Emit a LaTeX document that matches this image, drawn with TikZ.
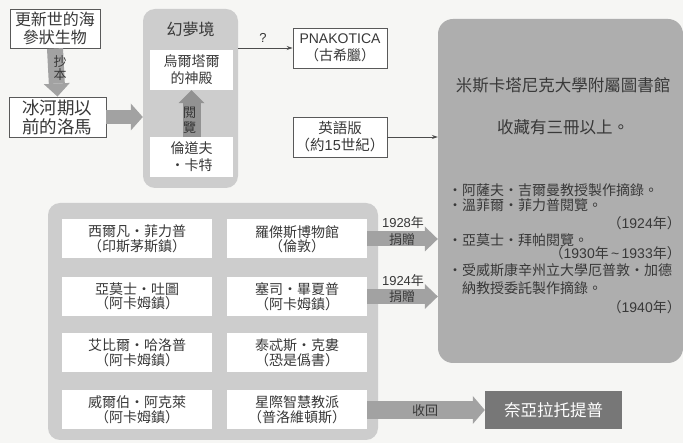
\documentclass[tikz,border=0pt]{standalone}
\usepackage{fontspec}
\setmainfont{Noto Sans CJK TC}
\newfontfamily\lat{Liberation Sans}
\usetikzlibrary{arrows.meta}
\definecolor{bg}{HTML}{F6F6F4}
\definecolor{cont}{HTML}{CDCDCD}
\definecolor{bigc}{HTML}{AEAEAE}
\definecolor{arr}{HTML}{A2A2A2}
\definecolor{txt}{HTML}{383838}
\definecolor{darkc}{HTML}{777777}
\newcommand\fsz[2]{\fontsize{#1pt}{#2pt}\selectfont}
\begin{document}
\begin{tikzpicture}[x=1pt,y=-1pt,
  box/.style={draw=black!65, line width=0.9pt, fill=white, align=center, inner sep=0pt, text=txt},
  wbox/.style={fill=white, align=center, inner sep=0pt, text=txt},
  contbox/.style={fill=cont, rounded corners=12pt, inner sep=0pt},
  lbl/.style={align=center, inner sep=0pt, text=txt},
  thinarrow/.style={draw=black!70, line width=0.8pt, -{Stealth[length=6pt,width=4pt]}},
]
\fill[bg] (0,0) rectangle (683,443);
\useasboundingbox (0,0) rectangle (683,443);

% top-left
\node[box, minimum width=90pt, minimum height=39pt, font=\fsz{16}{18}] (haishen) at (55,28.5) {更新世的海\\參狀生物};
\node[box, minimum width=97pt, minimum height=40pt, font=\fsz{17.5}{19}] (luoma) at (57.5,117) {冰河期以\\前的洛馬};

% dreamland container
\node[contbox, minimum width=95pt, minimum height=179pt] (dream) at (190.5,98.5) {};
\node[lbl, font=\fsz{16}{18}] (dreamt) at (190.5,29) {幻夢境};
\node[wbox, minimum width=83pt, minimum height=40pt, font=\fsz{14}{17}] (wuer) at (191.5,70) {烏爾塔爾\\的神殿};
\node[wbox, minimum width=83pt, minimum height=40pt, font=\fsz{14}{17}] (carter) at (191.5,157) {倫道夫\\・卡特};

% fat arrows top
\draw[arr, line width=16pt, -{Triangle[width=26pt,length=13pt,line width=0pt]}] (haishen.south) -- (luoma.north);
\node[lbl, font=\fsz{13}{13}] (chaoben) at (60,68) {抄\\本};
\draw[arr, line width=14pt, -{Triangle[width=27pt,length=12pt,line width=0pt]}] (luoma.east) -- (luoma.east -| dream.west);
\draw[arr!90!black, line width=18pt, -{Triangle[width=26pt,length=13pt,line width=0pt]}] (carter.north) -- (wuer.south);
\node[lbl, font=\fsz{13}{15}, text=black!80] (yuelan) at (189.5,120.5) {閱\\覽};

% middle column
\node[box, minimum width=94pt, minimum height=40pt, font=\fsz{14}{17}] (pnak) at (340,48) {{\lat\fsz{14}{17}PNAKOTICA}\\（古希臘）};
\node[box, minimum width=94pt, minimum height=40pt, font=\fsz{14.5}{17}] (eng) at (340,137) {英語版\\（約{\lat 15}世紀）};
\draw[thinarrow] (dream.east |- pnak.west) -- (pnak.west);
\node[lbl, font=\lat\fsz{13}{13}] (q) at (263,38) {?};

% big library box
\node[fill=bigc, rounded corners=15pt, minimum width=245pt, minimum height=344pt, inner sep=0pt] (big) at (560.5,191) {};
\draw[thinarrow] (eng.east) -- (eng.east -| big.west);
\node[lbl, font=\fsz{16.5}{18}] (bt1) at (563,85) {米斯卡塔尼克大學附屬圖書館};
\node[lbl, font=\fsz{16.5}{18}] (bt2) at (563,127) {收藏有三冊以上。};
\begin{scope}[every node/.style={lbl, font=\fsz{14}{15}}]
\node[anchor=west] (b1) at (448,190) {・阿薩夫・吉爾曼教授製作摘錄。};
\node[anchor=west] (b2) at (448,205) {・溫菲爾・菲力普閱覽。};
\node[anchor=east] (b2y) at (681,223) {（{\lat 1924}年）};
\node[anchor=west] (b3) at (448,240) {・亞莫士・拜帕閱覽。};
\node[anchor=east] (b3y) at (681,253) {（{\lat 1930}年{\lat\,\textasciitilde\,}{\lat 1933}年）};
\node[anchor=west] (b4) at (448,270) {・受威斯康辛州立大學厄普敦・加德};
\node[anchor=west] (b4b) at (462,288) {納教授委託製作摘錄。};
\node[anchor=east] (b4y) at (681,307) {（{\lat 1940}年）};
\end{scope}

% bottom-left container
\node[contbox, minimum width=330pt, minimum height=237pt] (bl) at (213,321.5) {};
\begin{scope}[every node/.style={wbox, minimum height=39pt, font=\fsz{14}{14.5}}]
\node[minimum width=150pt] (a1) at (137,239) {西爾凡・菲力普\\（印斯茅斯鎮）};
\node[minimum width=140pt] (b1c) at (297,239) {羅傑斯博物館\\（倫敦）};
\node[minimum width=150pt] (a2) at (137,296.5) {亞莫士・吐圖\\（阿卡姆鎮）};
\node[minimum width=140pt] (b2c) at (297,296.5) {塞司・畢夏普\\（阿卡姆鎮）};
\node[minimum width=150pt] (a3) at (137,353) {艾比爾・哈洛普\\（阿卡姆鎮）};
\node[minimum width=140pt] (b3c) at (297,353) {泰忒斯・克婁\\（恐是僞書）};
\node[minimum width=150pt] (a4) at (137,410) {威爾伯・阿克萊\\（阿卡姆鎮）};
\node[minimum width=140pt] (b4c) at (297,410) {星際智慧教派\\（普洛維頓斯）};
\end{scope}

% nyarlathotep
\node[fill=darkc, text=white, minimum width=137pt, minimum height=38pt, inner sep=0pt, font=\fsz{16.5}{18}] (nyar) at (553.5,410) {奈亞拉托提普};

% bottom fat arrows
\draw[arr, line width=15pt, -{Triangle[width=25pt,length=13pt,line width=0pt]}] (b1c.east) -- (b1c.east -| big.west);
\draw[arr, line width=15pt, -{Triangle[width=25pt,length=13pt,line width=0pt]}] (b2c.east) -- (b2c.east -| big.west);
\draw[arr, line width=18pt, -{Triangle[width=28pt,length=12pt,line width=0pt]}] (b4c.east) -- (nyar.west);
\node[lbl, font=\fsz{13}{13}] (y1928) at (403,223) {{\lat 1928}年};
\node[lbl, font=\fsz{13}{13}] (d1) at (402,240) {捐贈};
\node[lbl, font=\fsz{13}{13}] (y1924) at (403,281) {{\lat 1924}年};
\node[lbl, font=\fsz{13}{13}] (d2) at (402,297) {捐贈};
\node[lbl, font=\fsz{13}{13}] (shouhui) at (425,411) {收回};
\end{tikzpicture}
\end{document}
